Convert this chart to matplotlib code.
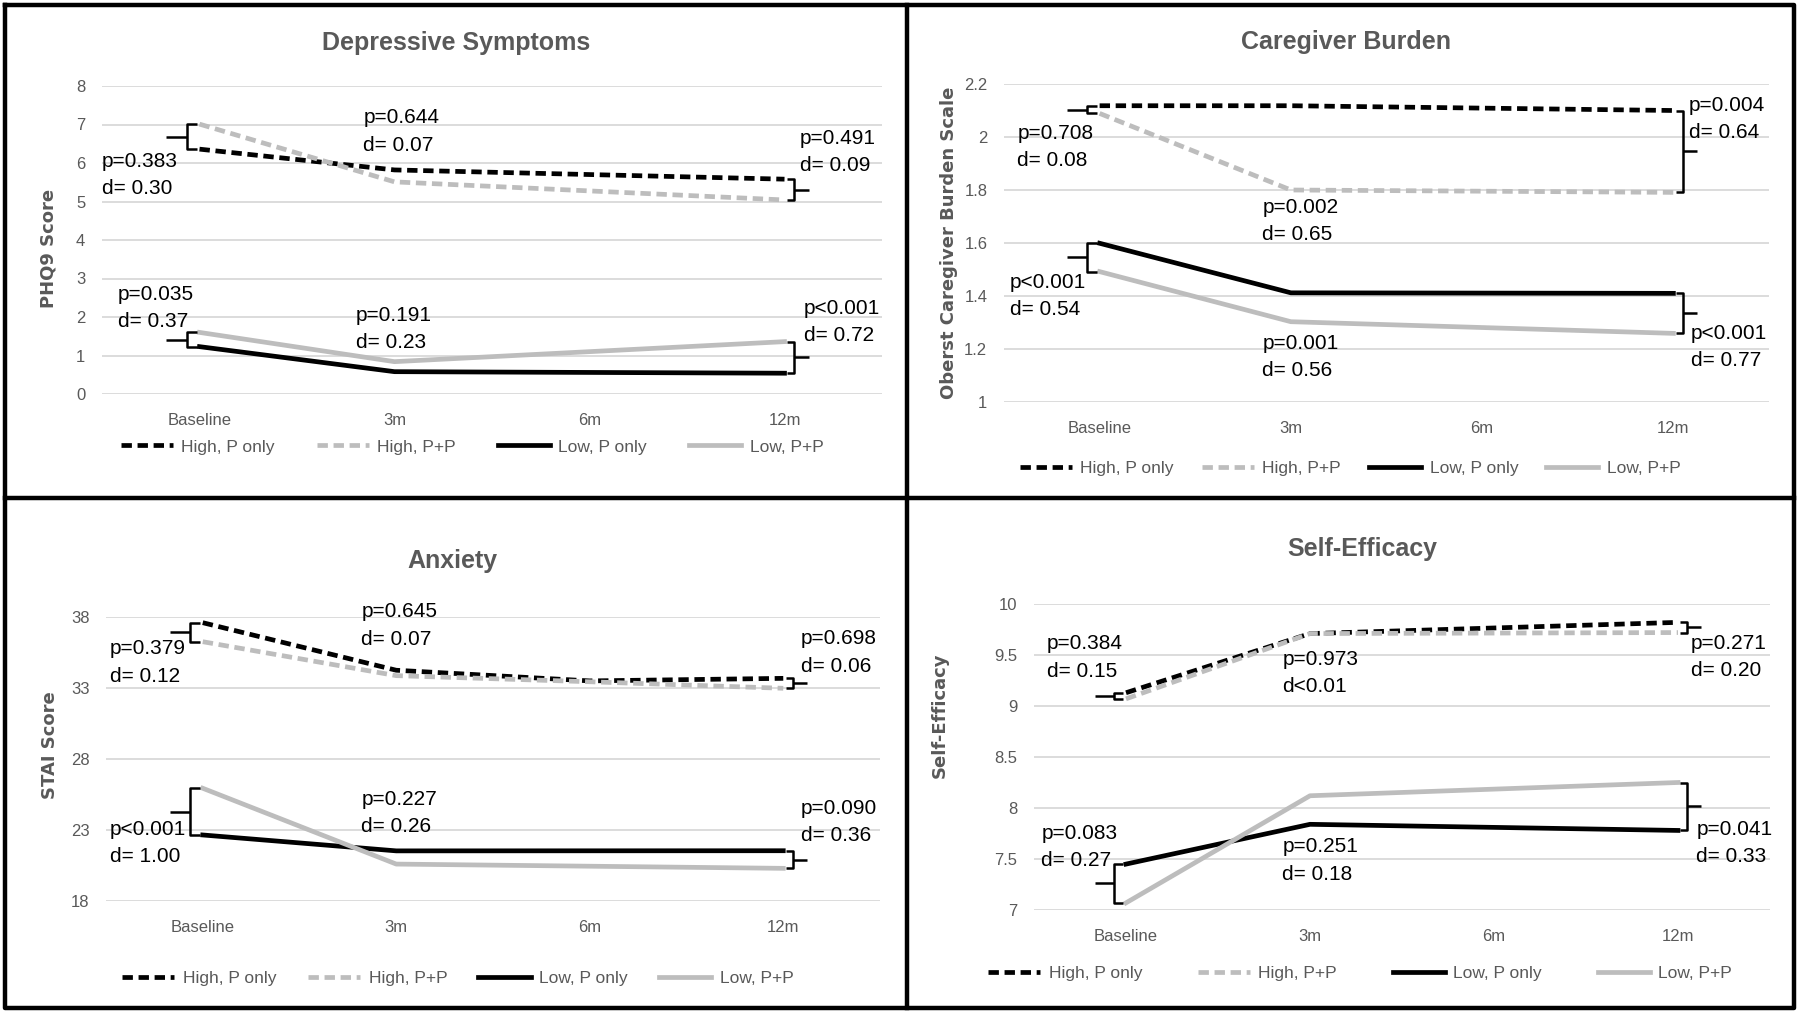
import numpy as np
import matplotlib
matplotlib.use("Agg")
import matplotlib.pyplot as plt
from matplotlib.lines import Line2D

plt.rcParams['font.family'] = ['Liberation Sans', 'DejaVu Sans']

# ---- data ----
timepoints = ['Baseline', '3m', '6m', '12m']
series_names = ['High, P only', 'High, P+P', 'Low, P only', 'Low, P+P']
nan = np.nan

# Depressive symptoms (PHQ9)
dep_high_p = [6.36, 5.82, nan, 5.58]
dep_high_pp = [7.01, 5.51, nan, 5.04]
dep_low_p = [1.23, 0.58, nan, 0.54]
dep_low_pp = [1.60, 0.84, nan, 1.36]
dep_stats = ['p=0.383\nd= 0.30', 'p=0.644\nd= 0.07', 'p=0.491\nd= 0.09',
             'p=0.035\nd= 0.37', 'p=0.191\nd= 0.23', 'p<0.001\nd= 0.72']

# Caregiver burden (Oberst)
bur_high_p = [2.118, 2.118, nan, 2.10]
bur_high_pp = [2.089, 1.80, nan, 1.791]
bur_low_p = [1.599, 1.412, nan, 1.41]
bur_low_pp = [1.492, 1.303, nan, 1.259]
bur_stats = ['p=0.708\nd= 0.08', 'p=0.002\nd= 0.65', 'p=0.004\nd= 0.64',
             'p<0.001\nd= 0.54', 'p=0.001\nd= 0.56', 'p<0.001\nd= 0.77']

# Anxiety (STAI)
anx_high_p = [37.6, 34.25, 33.5, 33.68]
anx_high_pp = [36.26, 33.87, 33.44, 32.98]
anx_low_p = [22.65, 21.53, nan, 21.54]
anx_low_pp = [25.94, 20.6, nan, 20.3]
anx_stats = ['p=0.379\nd= 0.12', 'p=0.645\nd= 0.07', 'p=0.698\nd= 0.06',
             'p<0.001\nd= 1.00', 'p=0.227\nd= 0.26', 'p=0.090\nd= 0.36']

# Self-efficacy
eff_high_p = [9.13, 9.71, nan, 9.82]
eff_high_pp = [9.07, 9.71, nan, 9.72]
eff_low_p = [7.45, 7.84, nan, 7.78]
eff_low_pp = [7.07, 8.12, nan, 8.25]
eff_stats = ['p=0.384\nd= 0.15', 'p=0.973\nd<0.01', 'p=0.271\nd= 0.20',
             'p=0.083\nd= 0.27', 'p=0.251\nd= 0.18', 'p=0.041\nd= 0.33']

# ---- styling ----
W, H = 1800, 1014
GRAY_TXT = '#595959'
LIGHT = '#BDBDBD'
styles = [dict(color='black', dashes=(2.2, 1.2)),
          dict(color=LIGHT, dashes=(2.2, 1.2)),
          dict(color='black'),
          dict(color=LIGHT)]

fig = plt.figure(figsize=(W / 100, H / 100), dpi=100)


def px_axes(x0, x1, ytop, ybot):
    return fig.add_axes([x0 / W, 1 - ybot / H, (x1 - x0) / W, (ybot - ytop) / H])


def brace(ax, x, y0, y1, side):
    # curly-bracket marker between two series at one time point
    if side < 0:
        xv, xh, xt = x - 0.065, x - 0.015, x - 0.17
    else:
        xv, xh, xt = x + 0.05, x + 0.012, x + 0.125
    ym = (y0 + y1) / 2
    kw = dict(color='black', lw=1.8, clip_on=False, solid_capstyle='butt',
              solid_joinstyle='round', zorder=5)
    ax.plot([xh, xv, xv, xh], [y1, y1, y0, y0], **kw)
    ax.plot([xv, xt], [ym, ym], **kw)


panels = [
    dict(box=(102, 882, 86, 394), ylim=(0, 8), ticks=np.arange(0, 9, 1),
         title='Depressive Symptoms', title_xy=(456, 43), ylabel='PHQ9 Score',
         ylabel_xy=(49, 248), legend_xy=(472, 447), colsp=2.4,
         series=[dep_high_p, dep_high_pp, dep_low_p, dep_low_pp], stats=dep_stats,
         stat_pos=[(-0.50, 5.68), (0.84, 6.82), (3.08, 6.29),
                   (-0.42, 2.23), (0.80, 1.68), (3.10, 1.87)]),
    dict(box=(1004, 1769, 84, 402), ylim=(1, 2.2), ticks=np.arange(1, 2.21, 0.2),
         title='Caregiver Burden', title_xy=(1346, 42),
         ylabel='Oberst Caregiver Burden Scale',
         ylabel_xy=(949, 243), legend_xy=(1350, 468), colsp=1.6,
         series=[bur_high_p, bur_high_pp, bur_low_p, bur_low_pp], stats=bur_stats,
         stat_pos=[(-0.43, 1.962), (0.85, 1.683), (3.08, 2.068),
                   (-0.47, 1.40), (0.85, 1.17), (3.09, 1.208)]),
    dict(box=(106, 880, 617, 901), ylim=(18, 38), ticks=np.arange(18, 39, 5),
         title='Anxiety', title_xy=(452, 561), ylabel='STAI Score',
         ylabel_xy=(50, 745), legend_xy=(458, 978), colsp=1.8,
         series=[anx_high_p, anx_high_pp, anx_low_p, anx_low_pp], stats=anx_stats,
         stat_pos=[(-0.48, 34.8), (0.82, 37.4), (3.09, 35.5),
                   (-0.48, 22.1), (0.82, 24.2), (3.09, 23.56)]),
    dict(box=(1034, 1770, 604, 910), ylim=(7, 10), ticks=np.arange(7, 10.01, 0.5),
         title='Self-Efficacy', title_xy=(1362, 549), ylabel='Self-Efficacy',
         ylabel_xy=(940, 715), legend_xy=(1360, 973), colsp=3.2,
         series=[eff_high_p, eff_high_pp, eff_low_p, eff_low_pp], stats=eff_stats,
         stat_pos=[(-0.43, 9.475), (0.85, 9.32), (3.07, 9.48),
                   (-0.46, 7.62), (0.85, 7.485), (3.10, 7.66)]),
]

x = np.arange(len(timepoints))
for p in panels:
    ax = px_axes(*p['box'])
    handles = []
    for vals, name, st in zip(p['series'], series_names, styles):
        y = np.array(vals, dtype=float)
        m = ~np.isnan(y)
        ln, = ax.plot(x[m], y[m], lw=3.4, label=name, zorder=3, **st)
        handles.append(ln)

    # brackets: baseline on the left, 12m on the right, high pair and low pair
    s = [np.array(v, dtype=float) for v in p['series']]
    for a, b in ((0, 1), (2, 3)):
        brace(ax, 0, min(s[a][0], s[b][0]), max(s[a][0], s[b][0]), -1)
        brace(ax, 3, min(s[a][3], s[b][3]), max(s[a][3], s[b][3]), +1)

    for txt, (tx, ty) in zip(p['stats'], p['stat_pos']):
        ax.text(tx, ty, txt, ha='left', va='center', fontsize=15,
                color='black', linespacing=1.55, zorder=6)

    ax.set_xlim(-0.5, 3.5)
    ax.set_ylim(*p['ylim'])
    ax.set_xticks(x)
    ax.set_xticklabels(timepoints)
    ax.set_yticks(p['ticks'])
    ax.set_yticklabels([f'{v:g}' for v in np.round(p['ticks'], 2)])
    ax.tick_params(length=0, labelsize=12, labelcolor=GRAY_TXT)
    ax.tick_params(axis='y', pad=12)
    ax.tick_params(axis='x', pad=14)
    ax.yaxis.grid(True, color='#D9D9D9', lw=1.3)
    ax.set_axisbelow(True)
    for sp in ax.spines.values():
        sp.set_visible(False)

    fig.text(p['title_xy'][0] / W, 1 - p['title_xy'][1] / H, p['title'],
             ha='center', va='center', fontsize=18, fontweight='bold', color=GRAY_TXT)
    fig.text(p['ylabel_xy'][0] / W, 1 - p['ylabel_xy'][1] / H, p['ylabel'],
             ha='center', va='center', rotation=90, fontsize=13, fontweight='bold',
             color=GRAY_TXT, family=['DejaVu Sans'])

    ax.legend(handles=handles, ncol=4, loc='center',
              bbox_to_anchor=(p['legend_xy'][0] / W, 1 - p['legend_xy'][1] / H),
              bbox_transform=fig.transFigure, frameon=False, fontsize=12.5,
              labelcolor=GRAY_TXT, handlelength=3.0, handletextpad=0.5,
              columnspacing=p['colsp'], borderpad=0)

# panel frames
frame_kw = dict(transform=fig.transFigure, color='black', lw=3.2, solid_capstyle='projecting')
xl, xr, xm = 5 / W, 1794 / W, 907 / W
yt, yb, ym = 1 - 5 / H, 1 - 1008 / H, 1 - 498 / H
for xs, ys in (([xl, xr, xr, xl, xl], [yt, yt, yb, yb, yt]),
               ([xm, xm], [yt, yb]),
               ([xl, xr], [ym, ym])):
    fig.add_artist(Line2D(xs, ys, **frame_kw))

fig.savefig('out.png', dpi=100, facecolor='white')
